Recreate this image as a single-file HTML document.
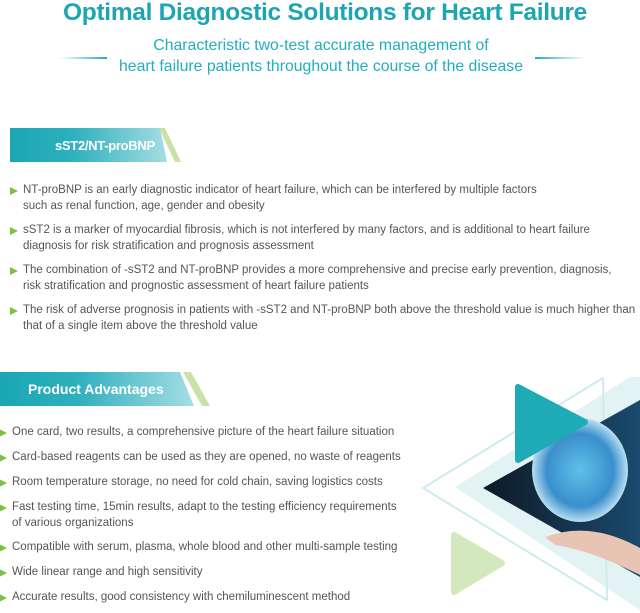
<!DOCTYPE html>
<html><head><meta charset="utf-8"><style>
body{margin:0;width:640px;height:613px;background:#fff;position:relative;overflow:hidden;font-family:"Liberation Sans",sans-serif;}
.t{position:absolute;white-space:nowrap}
.h1{left:0;width:650px;text-align:center;top:-1px;font-size:24.5px;font-weight:bold;color:#1ea5b2;letter-spacing:-0.3px}
.sub{left:0;width:642px;text-align:center;font-size:15.8px;color:#22aebb}
.b{position:absolute;font-size:11.5px;color:#555;line-height:15.5px;white-space:nowrap}
.b:before{content:"";position:absolute;left:-13px;top:4px;border-left:8px solid #7cc142;border-top:4px solid transparent;border-bottom:4px solid transparent}
.ban{position:absolute;height:34px;background:linear-gradient(90deg,#1aa6b4 0%,#2eb0bd 40%,#a6dde3 100%);color:#fff;font-weight:bold;font-size:14px;line-height:34px;white-space:nowrap}
</style></head><body>
<div class="t h1">Optimal Diagnostic Solutions for Heart Failure</div>
<div class="t sub" style="top:37px">Characteristic two-test accurate management of</div>
<div class="t sub" style="top:58px">heart failure patients throughout the course of the disease</div>
<div style="position:absolute;left:59px;top:57px;width:48px;height:2px;background:linear-gradient(90deg,#fff,#22aebb)"></div>
<div style="position:absolute;left:535px;top:57px;width:50px;height:2px;background:linear-gradient(90deg,#22aebb,#fff)"></div>

<div class="ban" style="left:10px;top:128px;width:157px;clip-path:polygon(0 0,150px 0,157px 100%,0 100%)"><span style="padding-left:45px;font-size:13px;letter-spacing:-0.3px">sST2/NT-proBNP</span></div>
<div style="position:absolute;left:159px;top:128px;width:22px;height:34px;background:#c8e2a8;clip-path:polygon(0 0,6px 0,22px 100%,16px 100%)"></div>

<div class="b" style="left:23px;top:183px">NT-proBNP is an early diagnostic indicator of heart failure, which can be interfered by multiple factors<br>such as renal function, age, gender and obesity</div>
<div class="b" style="left:23px;top:223px">sST2 is a marker of myocardial fibrosis, which is not interfered by many factors, and is additional to heart failure<br>diagnosis for risk stratification and prognosis assessment</div>
<div class="b" style="left:23px;top:263px">The combination of -sST2 and NT-proBNP provides a more comprehensive and precise early prevention, diagnosis,<br>risk stratification and prognostic assessment of heart failure patients</div>
<div class="b" style="left:23px;top:303px">The risk of adverse prognosis in patients with -sST2 and NT-proBNP both above the threshold value is much higher than<br>that of a single item above the threshold value</div>

<div class="ban" style="left:0;top:372px;width:194px;clip-path:polygon(0 0,180px 0,194px 100%,0 100%)"><span style="padding-left:28px">Product Advantages</span></div>
<div style="position:absolute;left:183px;top:372px;width:27px;height:34px;background:#c8e2a8;clip-path:polygon(0 0,8px 0,27px 100%,19px 100%)"></div>

<svg style="position:absolute;left:0;top:0" width="640" height="613">
<polygon points="455,487 630,377 660,377 660,613 640,610" fill="#e3f3f4"/>
<polygon points="423,488 603,378 607,600" fill="none" stroke="#cdebee" stroke-width="2" stroke-linejoin="round"/>
<defs><radialGradient id="hg" cx="0.5" cy="0.5" r="0.5"><stop offset="0" stop-color="#5fc0e8"/><stop offset="0.7" stop-color="#3a8fcc"/><stop offset="1" stop-color="#b9def2"/></radialGradient>
<linearGradient id="bg" x1="0" y1="0" x2="1" y2="0"><stop offset="0" stop-color="#0d1a26"/><stop offset="1" stop-color="#1a4a6e"/></linearGradient></defs>
<polygon points="483,488 640,400 640,577" fill="url(#bg)"/>
<ellipse cx="580" cy="470" rx="48" ry="52" fill="url(#hg)"/>
<path d="M545,537 Q590,520 640,548 L640,575 Q590,550 555,545Z" fill="#e8c4b4"/>
<polygon points="518,387 518,460 585,422" fill="#1fabb6" stroke="#1fabb6" stroke-width="6" stroke-linejoin="round"/>
<polygon points="454,535 454,592 502,563" fill="#d3e8bd" stroke="#d3e8bd" stroke-width="6" stroke-linejoin="round"/>
</svg>

<div class="b" style="left:12px;top:425px">One card, two results, a comprehensive picture of the heart failure situation</div>
<div class="b" style="left:12px;top:450px">Card-based reagents can be used as they are opened, no waste of reagents</div>
<div class="b" style="left:12px;top:475px">Room temperature storage, no need for cold chain, saving logistics costs</div>
<div class="b" style="left:12px;top:500px">Fast testing time, 15min results, adapt to the testing efficiency requirements<br>of various organizations</div>
<div class="b" style="left:12px;top:540px">Compatible with serum, plasma, whole blood and other multi-sample testing</div>
<div class="b" style="left:12px;top:565px">Wide linear range and high sensitivity</div>
<div class="b" style="left:12px;top:590px">Accurate results, good consistency with chemiluminescent method</div>
</body></html>
